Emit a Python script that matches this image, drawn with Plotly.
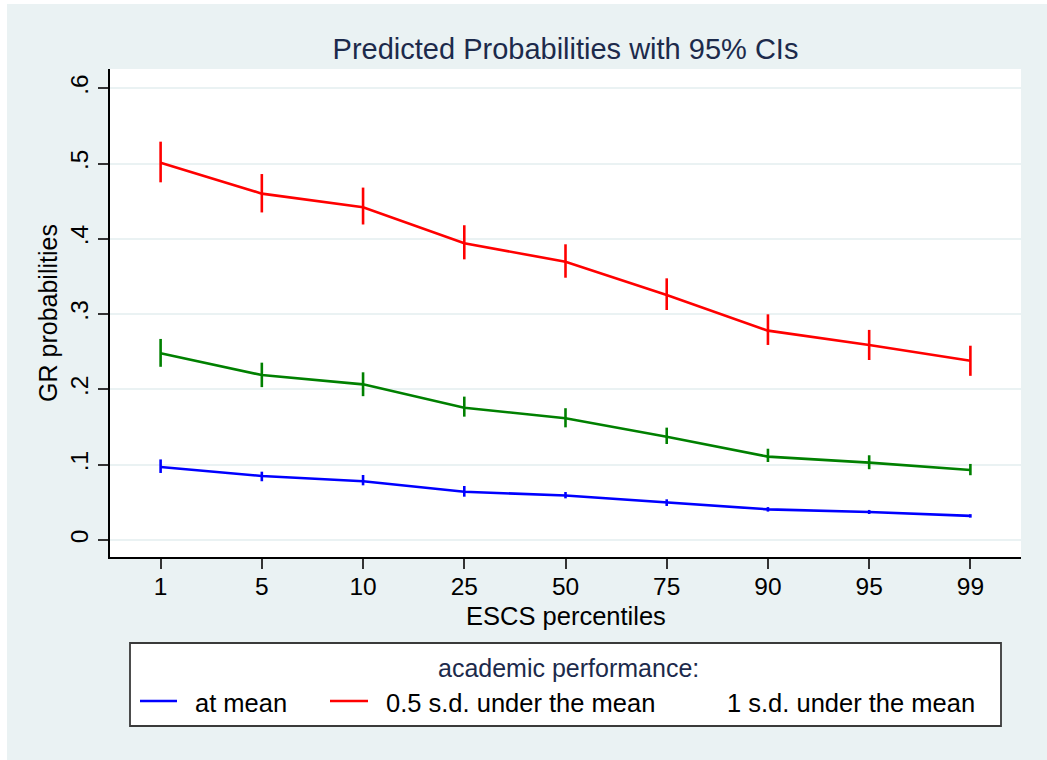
import plotly.graph_objects as go

# ESCS percentile categories (placed on an evenly spaced categorical axis)
percentiles = ["1", "5", "10", "25", "50", "75", "90", "95", "99"]

# Predicted probabilities and 95% confidence limits, by academic performance
at_mean = [0.097, 0.085, 0.078, 0.064, 0.059, 0.0496, 0.0407, 0.0372, 0.032]
at_mean_lo = [0.089, 0.078, 0.0726, 0.0575, 0.0553, 0.0452, 0.0377, 0.0345, 0.0297]
at_mean_hi = [0.107, 0.0907, 0.0863, 0.0717, 0.0637, 0.054, 0.0437, 0.0399, 0.0343]

half_sd = [0.501, 0.460, 0.442, 0.394, 0.3696, 0.3254, 0.278, 0.259, 0.238]
half_sd_lo = [0.475, 0.435, 0.419, 0.3727, 0.3483, 0.3054, 0.259, 0.239, 0.218]
half_sd_hi = [0.529, 0.486, 0.468, 0.418, 0.3927, 0.3475, 0.2997, 0.279, 0.258]

one_sd = [0.248, 0.219, 0.2067, 0.1757, 0.1616, 0.1372, 0.1107, 0.1027, 0.093]
one_sd_lo = [0.230, 0.203, 0.191, 0.1638, 0.1496, 0.1275, 0.1036, 0.094, 0.086]
one_sd_hi = [0.267, 0.2355, 0.2227, 0.1904, 0.175, 0.1492, 0.1212, 0.1125, 0.101]

series_names = ["at mean", "0.5 s.d. under the mean", "1 s.d. under the mean"]
series_colors = ["#0000ff", "#ff0000", "#008000"]

y_tickvals = [0, 0.1, 0.2, 0.3, 0.4, 0.5, 0.6]
y_ticktext = ["0", ".1", ".2", ".3", ".4", ".5", ".6"]

W, H = 1047, 760
ML, MR, MT, MB = 110, 26, 69, 203
BG = "#eaf2f3"
NAVY = "#1c2a4b"
FONT = "Liberation Sans, Arial, sans-serif"


def px_x(px):
    """Horizontal pixel position -> paper coordinate."""
    return (px - ML) / (W - ML - MR)


def px_y(py):
    """Vertical pixel position (from top) -> paper coordinate."""
    return (H - MB - py) / (H - MT - MB)


fig = go.Figure()

x_idx = list(range(len(percentiles)))
for name, color, mid, lo, hi in [
    (series_names[0], series_colors[0], at_mean, at_mean_lo, at_mean_hi),
    (series_names[1], series_colors[1], half_sd, half_sd_lo, half_sd_hi),
    (series_names[2], series_colors[2], one_sd, one_sd_lo, one_sd_hi),
]:
    fig.add_trace(go.Scatter(
        x=x_idx, y=mid, mode="lines", name=name,
        line=dict(color=color, width=2.6),
        error_y=dict(type="data", symmetric=False,
                     array=[h - m for h, m in zip(hi, mid)],
                     arrayminus=[m - l for m, l in zip(mid, lo)],
                     color=color, thickness=2.6, width=0),
        showlegend=False,
    ))

# Legend box drawn in paper space below the axis
shapes = [
    dict(type="rect", xref="paper", yref="paper",
         x0=px_x(130), x1=px_x(1001), y0=px_y(726), y1=px_y(643),
         line=dict(color="#3a3a3a", width=1.8), fillcolor="white", layer="above"),
    # thin white frame strips along the top and left edges
    dict(type="rect", xref="paper", yref="paper",
         x0=px_x(0), x1=px_x(7), y0=px_y(H), y1=px_y(0),
         line=dict(width=0), fillcolor="white", layer="above"),
    dict(type="rect", xref="paper", yref="paper",
         x0=px_x(0), x1=px_x(W), y0=px_y(4), y1=px_y(0),
         line=dict(width=0), fillcolor="white", layer="above"),
]

annotations = [
    # x-axis title
    dict(text="ESCS percentiles", xref="paper", yref="paper",
         x=0.5, y=px_y(616), showarrow=False,
         font=dict(family=FONT, size=25.5, color="black"),
         xanchor="center", yanchor="middle"),
    dict(text="academic performance:", xref="paper", yref="paper",
         x=px_x(568), y=px_y(668), showarrow=False,
         font=dict(family=FONT, size=25, color=NAVY),
         xanchor="center", yanchor="middle"),
]

legend_items = [
    (140, 177, 193, True),
    (330, 368, 384, True),
    (690, 727, 725, False),
]
for (sx0, sx1, tx, has_line), name, color in zip(legend_items, series_names, series_colors):
    if has_line:
        shapes.append(dict(type="line", xref="paper", yref="paper",
                           x0=px_x(sx0), x1=px_x(sx1), y0=px_y(701), y1=px_y(701),
                           line=dict(color=color, width=2.6), layer="above"))
    annotations.append(dict(text=name, xref="paper", yref="paper",
                            x=px_x(tx), y=px_y(703), showarrow=False,
                            font=dict(family=FONT, size=25.5, color="black"),
                            xanchor="left", yanchor="middle"))

fig.update_layout(
    width=W, height=H,
    margin=dict(l=ML, r=MR, t=MT, b=MB),
    paper_bgcolor=BG, plot_bgcolor="white",
    font=dict(family=FONT, color="black"),
    title=dict(text="Predicted Probabilities with 95% CIs",
               x=0.5, xref="paper", y=1 - 49 / H, yref="container",
               xanchor="center", yanchor="middle",
               font=dict(family=FONT, size=29, color=NAVY)),
    xaxis=dict(
        range=[-0.5, 8.5], tickmode="array", tickvals=x_idx, ticktext=percentiles,
        showgrid=False, zeroline=False,
        showline=True, linecolor="black", linewidth=1.5,
        ticks="outside", ticklen=10, tickwidth=1.5, tickcolor="#333333",
        tickfont=dict(size=24.5), ticklabelstandoff=-3,
    ),
    yaxis=dict(
        range=[-0.0226, 0.6255], tickmode="array", tickvals=y_tickvals, ticktext=y_ticktext,
        tickangle=-90,
        showgrid=True, gridcolor=BG, gridwidth=2, zeroline=False,
        showline=True, linecolor="black", linewidth=1.5,
        ticks="outside", ticklen=10, tickwidth=1.5, tickcolor="#333333",
        tickfont=dict(size=24.5),
        title=dict(text="GR probabilities", font=dict(size=25), standoff=2),
    ),
    shapes=shapes,
    annotations=annotations,
)

fig.write_html("out.html")
